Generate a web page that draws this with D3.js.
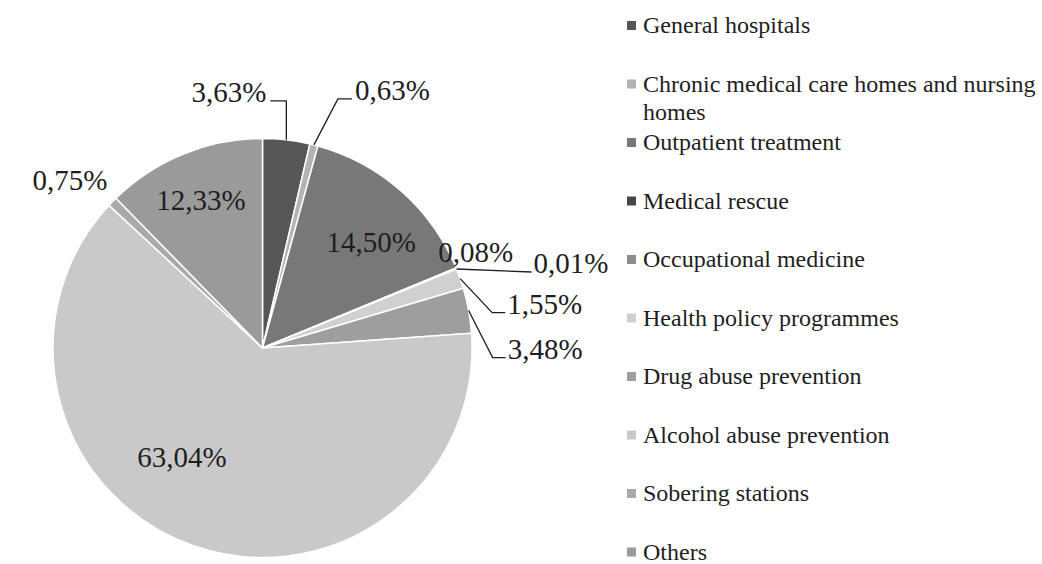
<!DOCTYPE html>
<html>
<head>
<meta charset="utf-8">
<script src="https://cdn.jsdelivr.net/npm/d3@7"></script>
<style>
  html, body { margin: 0; padding: 0; background: #fff; }
  svg { display: block; }
</style>
</head>
<body>
<svg id="chart" width="1042" height="564"></svg>
<script>
// data, clockwise from 12 o'clock
const categories = [
  'General hospitals',
  'Chronic medical care homes and nursing homes',
  'Outpatient treatment',
  'Medical rescue',
  'Occupational medicine',
  'Health policy programmes',
  'Drug abuse prevention',
  'Alcohol abuse prevention',
  'Sobering stations',
  'Others'
];
const shares = [3.63, 0.63, 14.50, 0.08, 0.01, 1.55, 3.48, 63.04, 0.75, 12.33];
const valueLabels = ['3,63%', '0,63%', '14,50%', '0,08%', '0,01%', '1,55%', '3,48%', '63,04%', '0,75%', '12,33%'];
const greys = ['#575757', '#b3b3b3', '#787878', '#474747', '#8c8c8c', '#d0d0d0', '#9e9e9e', '#c9c9c9', '#a9a9a9', '#9a9a9a'];

// label placement, relative to the rim point (or to the inner centroid for 'inside')
const labelLayout = [
  { kind: 'leader', elbow: [0, -39], end: [-16, -39], anchor: 'end', tx: -20, ty: -38 },
  { kind: 'leader', elbow: [24, -46], end: [38, -46], anchor: 'start', tx: 41, ty: -45 },
  { kind: 'inside', nudge: [6, 10] },
  { kind: 'free', anchor: 'start', tx: -18, ty: -6 },
  { kind: 'leader', elbow: [75, 3], end: [75, 3], anchor: 'start', tx: 77, ty: 4 },
  { kind: 'leader', elbow: [32, 34], end: [45, 34], anchor: 'start', tx: 47, ty: 35 },
  { kind: 'leader', elbow: [24, 47], end: [37, 47], anchor: 'start', tx: 39, ty: 48 },
  { kind: 'inside', nudge: [-29, -37] },
  { kind: 'free', anchor: 'end', tx: -5, ty: -12 },
  { kind: 'inside', nudge: [-3, -4] }
];

const fontFamily = '"Liberation Serif", "Times New Roman", "DejaVu Serif", serif';
const cx = 262.5, cy = 348, radius = 209.5;
const svg = d3.select('#chart');
const color = d3.scaleOrdinal(categories, greys);

const pie = d3.pie().sort(null).value((d, i) => shares[i]);
const arcs = pie(categories);

const arc = d3.arc().innerRadius(0).outerRadius(radius);
const rimArc = d3.arc().innerRadius(radius).outerRadius(radius);
const innerArc = d3.arc().innerRadius(radius * 0.74).outerRadius(radius * 0.74);

const g = svg.append('g').attr('transform', `translate(${cx},${cy})`);

g.selectAll('path.slice')
  .data(arcs)
  .enter()
  .append('path')
  .attr('class', 'slice')
  .attr('d', arc)
  .attr('fill', d => color(d.data))
  .attr('stroke', '#fff')
  .attr('stroke-width', 1.5)
  .attr('stroke-linejoin', 'round');

// labels and leader lines
arcs.forEach((d, i) => {
  const lay = labelLayout[i];
  const txt = g.append('text')
    .attr('font-family', fontFamily)
    .attr('font-size', 29)
    .attr('fill', '#1e1e1e')
    .text(valueLabels[i]);

  if (lay.kind === 'inside') {
    const [x, y] = innerArc.centroid(d);
    txt.attr('text-anchor', 'middle')
      .attr('x', x + lay.nudge[0])
      .attr('y', y + lay.nudge[1] + 10);
    return;
  }

  const [ex, ey] = rimArc.centroid(d);
  if (lay.kind === 'leader') {
    g.append('path')
      .attr('d', d3.line()([
        [ex, ey],
        [ex + lay.elbow[0], ey + lay.elbow[1]],
        [ex + lay.end[0], ey + lay.end[1]]
      ]))
      .attr('fill', 'none')
      .attr('stroke', '#1e1e1e')
      .attr('stroke-width', 1.3);
  }
  txt.attr('text-anchor', lay.anchor)
    .attr('x', ex + lay.tx)
    .attr('y', ey + lay.ty);
});

// legend
const legendX = 627, legendTop = 33, legendStep = 58.5, legendMax = 1042 - 643;
const legend = svg.append('g');

categories.forEach((name, i) => {
  const y = legendTop + i * legendStep;
  legend.append('rect')
    .attr('x', legendX)
    .attr('y', y - 12)
    .attr('width', 9)
    .attr('height', 9)
    .attr('fill', color(name));

  const t = legend.append('text')
    .attr('x', legendX + 16)
    .attr('y', y)
    .attr('font-family', fontFamily)
    .attr('font-size', 24)
    .attr('fill', '#1e1e1e');

  // simple word wrap
  const words = name.split(' ');
  let line = [];
  let span = t.append('tspan').attr('x', legendX + 16).attr('y', y);
  let lineNo = 0;
  words.forEach(w => {
    line.push(w);
    span.text(line.join(' '));
    if (span.node().getComputedTextLength() > legendMax && line.length > 1) {
      line.pop();
      span.text(line.join(' '));
      line = [w];
      lineNo++;
      span = t.append('tspan').attr('x', legendX + 16).attr('y', y + lineNo * 28).text(w);
    }
  });
});
</script>
</body>
</html>
